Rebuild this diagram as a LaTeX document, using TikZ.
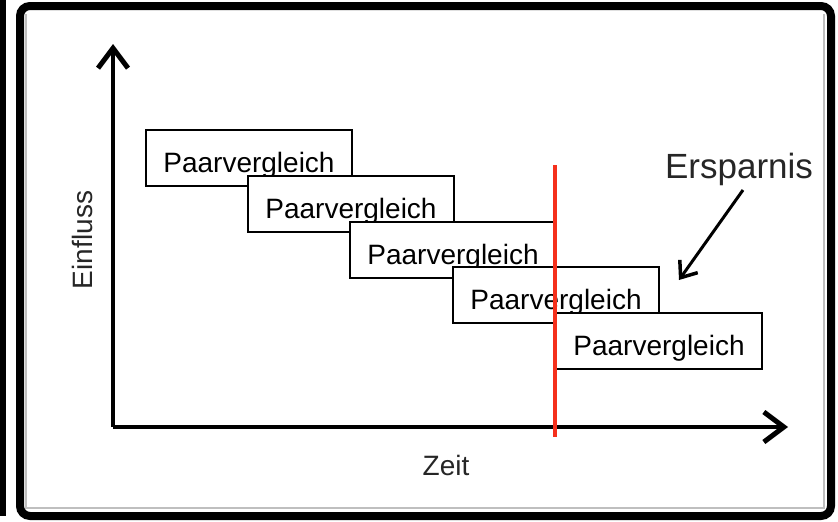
\documentclass[tikz,border=0pt]{standalone}
\usepackage{fontspec}
\setmainfont{Liberation Sans}
\usetikzlibrary{arrows.meta}
\definecolor{markred}{HTML}{F5301C}
\begin{document}
\begin{tikzpicture}[x=1pt,y=-1pt,
  stepbox/.style={draw=black, line width=2.2pt, fill=white, minimum width=206pt,
    minimum height=56pt, inner sep=0pt, text height=28pt, text depth=0pt,
    font=\fontsize{28}{30}\selectfont},
  axis/.style={line width=4pt, -{Straight Barb[length=20pt,width=30pt,line width=5pt]}},
  lbl/.style={font=\fontsize{28}{30}\selectfont, text=black!85}]
\useasboundingbox (0,0) rectangle (838,522);
% outer frame and neighbouring edge
\fill[black] (0,0) rectangle (6,516);
\draw[black!25, line width=2pt] (26,14) -- (26,508) -- (824,508) -- (824,14);
\draw[black, line width=8pt, rounded corners=10pt] (20,6) rectangle (831,516);
% axes
\coordinate (O) at (113,427);
\coordinate (ytop) at (113,44);
\coordinate (xend) at (788,427);
\draw[axis] (O) -- (ytop);
\draw[axis] (O) -- (xend);
\node[lbl, rotate=90] (einfluss) at (82,240) {Einfluss};
\node[lbl] (zeit) at (446,465) {Zeit};
% overlapping comparison steps
\node[stepbox] (p1) at (249,158) {Paarvergleich};
\node[stepbox] (p2) at (351,204) {Paarvergleich};
\node[stepbox] (p3) at (453,250) {Paarvergleich};
\node[stepbox] (p4) at (556,295) {Paarvergleich};
\node[stepbox] (p5) at (659,341) {Paarvergleich};
% savings marker
\coordinate (rtop) at (555,165);
\coordinate (rbot) at (555,437);
\draw[markred, line width=4pt] (rtop) -- (rbot);
\node[font=\fontsize{35}{38}\selectfont, text=black!85] (ersp) at (739,169) {Ersparnis};
\coordinate (etip) at (679,280);
\draw[line width=3pt, -{Straight Barb[length=14pt,width=22pt,line width=3.5pt]}] (743,190) -- (etip);
\end{tikzpicture}
\end{document}
